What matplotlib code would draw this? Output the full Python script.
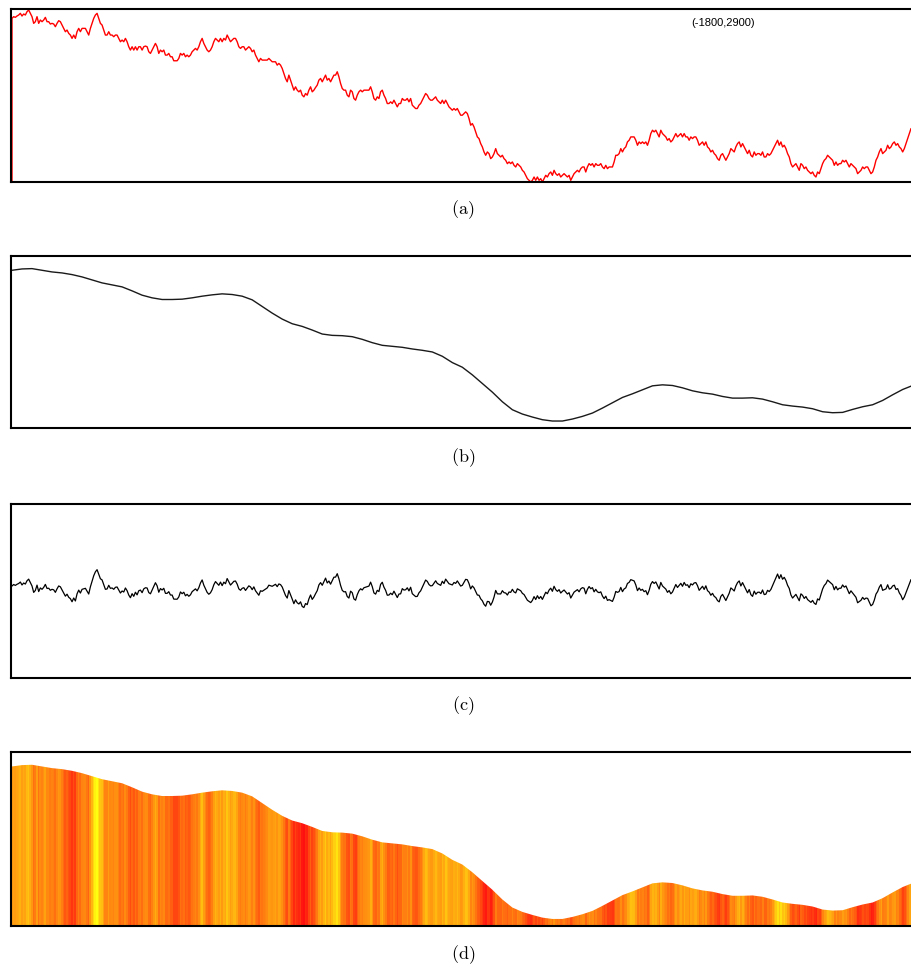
import numpy as np
import matplotlib.pyplot as plt
from matplotlib.patches import PathPatch

# ====================== DATA ======================
# raw signal, panel (a), read left to right at equal steps
raw_left = [490, 495, 493, 497, 500, 505, 497, 503, 500, 510, 515, 505, 495, 475, 480, 495, 475, 485, 480, 485,
            493, 480, 480, 473, 475, 473, 465, 475, 483, 480, 470, 460, 450, 455, 445, 440, 430, 440, 430, 450,
            460, 450, 460, 460, 460, 450, 440, 460, 475, 490, 500, 505, 490, 475, 470, 455, 440, 440, 450, 440,
            440, 435, 440, 440, 430, 420, 425, 420, 430, 420, 405, 395, 405, 395, 405, 395, 405, 405, 395, 405,
            407, 405, 390, 385, 395, 405, 415, 405, 385, 395, 390, 395, 380, 380, 385, 375, 375, 363, 363, 363,
            370, 385, 380, 385, 375, 380, 375, 380, 390, 395, 400, 395, 405, 420, 430, 415, 405, 395, 390, 395,
            405, 420, 430, 425, 420, 430, 420, 430, 425, 440, 430, 420, 425, 430, 430, 420, 405, 400, 405, 405,
            395, 400, 405, 400, 390, 395, 380, 370, 360, 370, 365, 365, 365, 365, 370, 365, 360, 360, 360, 350,
            355, 350, 340, 325, 310, 300, 320, 305, 290, 275, 285, 275, 270, 275, 260, 255, 265, 260, 275, 285]
raw_mid = [270, 275, 283, 290, 305, 310, 300, 310, 320, 305, 310, 300, 310, 320, 320, 330, 315, 295, 280, 275,
           275, 260, 255, 275, 270, 250, 245, 260, 270, 275, 270, 275, 275, 275, 275, 285, 270, 250, 245, 255,
           250, 270, 275, 260, 250, 235, 235, 240, 235, 245, 235, 225, 235, 235, 250, 245, 245, 250, 240, 250,
           230, 225, 220, 220, 230, 235, 245, 255, 265, 260, 250, 245, 245, 250, 255, 245, 240, 235, 245, 235,
           245, 235, 225, 220, 215, 220, 215, 220, 210, 200, 200, 205, 210, 205, 190, 170, 175, 165, 150, 135,
           130, 115, 105, 90, 80, 90, 85, 70, 75, 85, 100, 85, 80, 75, 80, 70, 65, 55, 60, 55,
           60, 50, 45, 55, 50, 45, 35, 30, 20, 10, 5, 0, 5, 15, 5, 15, 5, 10, 0, 10,
           20, 15, 25, 30, 20, 35, 25, 20, 25, 15, 20, 25, 20, 15, 20, 5, 15, 25, 30, 35,
           30, 40, 45, 45, 30, 45, 55, 50, 55, 45, 55, 50, 50, 55, 45, 40, 50, 40, 45, 45]
raw_right = [45, 60, 80, 80, 85, 100, 90, 100, 105, 120, 125, 135, 135, 135, 125, 110, 120, 115, 120, 115,
             120, 110, 125, 145, 155, 150, 155, 145, 135, 155, 145, 140, 135, 125, 130, 120, 125, 135, 145, 135,
             140, 145, 135, 145, 135, 135, 125, 135, 130, 135, 135, 125, 110, 115, 120, 110, 120, 105, 100, 90,
             95, 85, 80, 70, 65, 80, 85, 75, 65, 75, 85, 100, 95, 90, 105, 115, 120, 105, 115, 105,
             95, 85, 95, 80, 75, 90, 80, 85, 85, 80, 90, 75, 75, 85, 80, 85, 95, 105, 115, 125,
             110, 120, 105, 110, 100, 85, 75, 55, 45, 50, 55, 45, 35, 55, 50, 40, 45, 35, 30, 25,
             30, 20, 15, 30, 25, 40, 55, 65, 70, 80, 75, 70, 65, 50, 60, 50, 55, 55, 65, 60,
             65, 55, 45, 55, 50, 45, 40, 25, 30, 35, 45, 40, 45, 45, 35, 25, 30, 45, 65, 75,
             90, 100, 85, 90, 95, 110, 100, 105, 115, 120, 110, 115, 105, 100, 90, 100, 115, 130, 145, 160, 160]
start_level = 0

# smoothed trend, panels (b) and (d), read at equal steps over the same span
trend = [475, 479, 480, 475, 470, 467, 462, 455, 446, 437, 431, 425, 413, 400, 392, 387, 387, 388, 392, 397,
         401, 404, 402, 397, 386, 366, 346, 328, 314, 306, 295, 283, 279, 278, 275, 267, 257, 249, 246, 243,
         238, 234, 229, 216, 197, 183, 160, 134, 108, 79, 55, 42, 33, 25, 21, 21, 27, 35, 45, 60,
         76, 92, 103, 115, 127, 130, 128, 121, 112, 106, 102, 95, 90, 90, 91, 87, 79, 70, 66, 63,
         58, 49, 46, 47, 56, 64, 70, 83, 100, 116, 128]

corner_text = '(-1800,2900)'
panel_labels = ['(a)', '(b)', '(c)', '(d)']

raw = np.array(raw_left + raw_mid + raw_right, dtype=float)
trend = np.array(trend, dtype=float)
t = np.arange(len(raw))
t_trend = np.linspace(0, len(raw) - 1, len(trend))

# residual = raw minus trend
resid = raw - np.interp(t, t_trend, trend)

y_top = 518
x_lim = (-0.6, len(raw) + 0.4)

# ====================== FIGURE ======================
plt.rcParams['mathtext.fontset'] = 'cm'
fig = plt.figure(figsize=(9.12, 9.69), dpi=100)

H = 969.0
left, width = 11.0 / 912, 904 / 912
boxes = [(9, 182), (256, 428), (504, 678), (752, 926)]
label_y = [210, 458, 706, 955]

axes = []
for top, bot in boxes:
    ax = fig.add_axes([left, 1 - bot / H, width, (bot - top) / H])
    ax.set_xticks([])
    ax.set_yticks([])
    for s in ax.spines.values():
        s.set_linewidth(1.5)
        s.set_color('black')
    axes.append(ax)

ax1, ax2, ax3, ax4 = axes

# (a) raw
ax1.plot(np.r_[0, t], np.r_[start_level, raw], color='red', lw=1.0)
ax1.set_ylim(0, y_top)
fig.text(723 / 912, 1 - 23 / H, corner_text, ha='center', va='center',
         fontsize=8, family='Liberation Sans')

# (b) trend
ax2.plot(t_trend, trend, color='#1a1a1a', lw=1.0)
ax2.set_ylim(0, y_top)

# (c) residual
ax3.plot(t, resid, color='black', lw=0.9)
ax3.set_ylim(-y_top / 2, y_top / 2)

# (d) trend filled, coloured by residual
im = ax4.imshow(resid[np.newaxis, :], cmap='autumn', aspect='auto', origin='lower', alpha=0.94,
                extent=[-0.5, len(raw) - 0.5, 0, y_top], interpolation='nearest')
poly = ax4.fill_between(t_trend, 0, trend, facecolor='none', edgecolor='none')
clip = PathPatch(poly.get_paths()[0], transform=ax4.transData, facecolor='none', edgecolor='none')
ax4.add_patch(clip)
im.set_clip_path(clip)
ax4.set_ylim(0, y_top)

for ax in axes:
    ax.set_xlim(*x_lim)

for lab, ly in zip(panel_labels, label_y):
    fig.text(463 / 912, 1 - ly / H, r'$\mathrm{' + lab + '}$', ha='center', va='center', fontsize=13)

fig.savefig('out.png', dpi=100)
